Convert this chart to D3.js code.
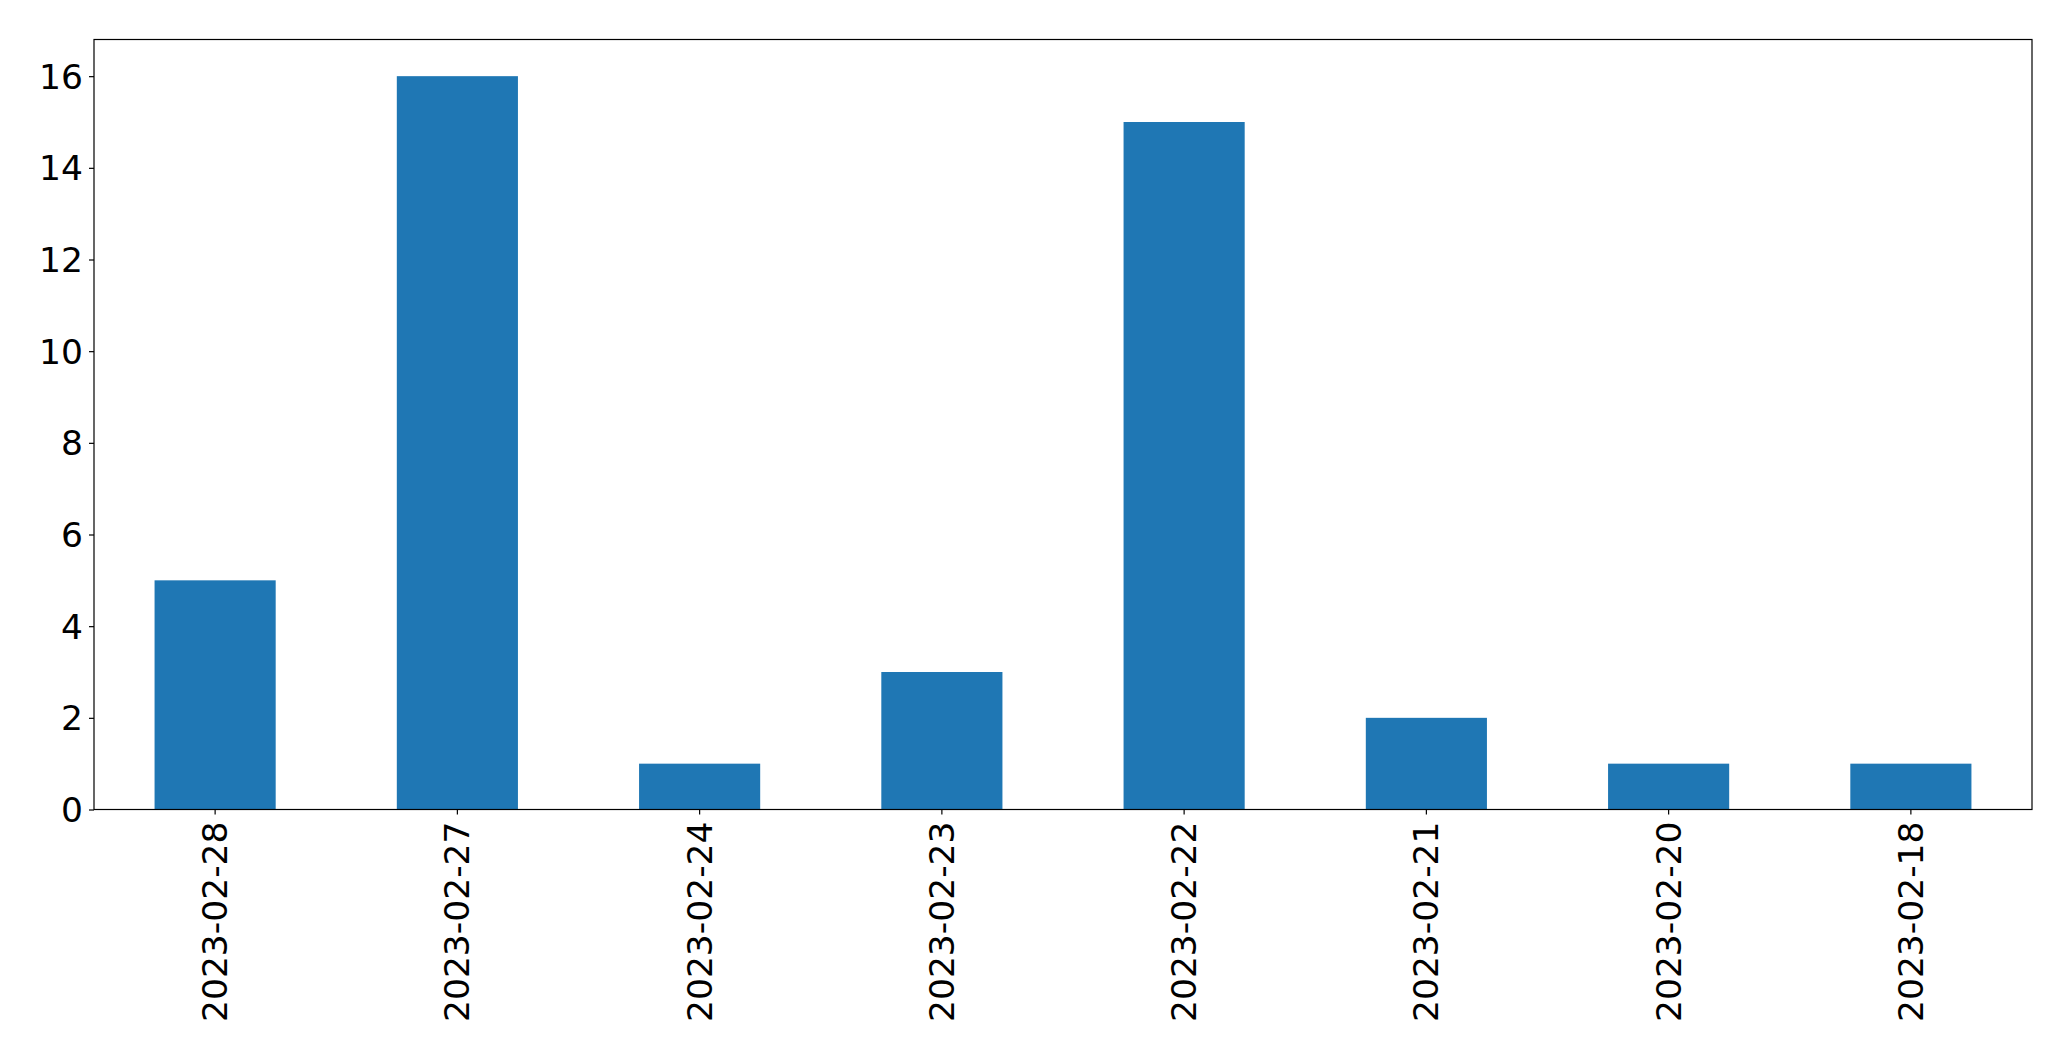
<!DOCTYPE html>
<html>
<head>
<meta charset="utf-8">
<script src="https://cdn.jsdelivr.net/npm/d3@7"></script>
<style>
html,body{margin:0;padding:0;background:#fff;}
svg{display:block;}
text{font-family:"DejaVu Sans",sans-serif;fill:#000;}
</style>
</head>
<body>
<svg id="chart" width="2071" height="1061"></svg>
<script>
const categories = ["2023-02-28","2023-02-27","2023-02-24","2023-02-23","2023-02-22","2023-02-21","2023-02-20","2023-02-18"];
const values = [5,16,1,3,15,2,1,1];
const yTicks = [0,2,4,6,8,10,12,14,16];

const W = 2071, H = 1061;
const m = {left:94, right:W-2032, top:39.5, bottom:H-809.5};
const svg = d3.select("#chart");
const iw = W - m.left - m.right, ih = H - m.top - m.bottom;
const g = svg.append("g").attr("transform", `translate(${m.left},${m.top})`);

const x = d3.scaleBand().domain(categories).range([0, iw]).paddingInner(0.5).paddingOuter(0.25);
const y = d3.scaleLinear().domain([0, 16.8]).range([ih, 0]);

g.selectAll("rect.bar").data(values).enter().append("rect")
  .attr("class","bar")
  .attr("x", (d,i)=>x(categories[i]))
  .attr("width", x.bandwidth())
  .attr("y", d=>y(d))
  .attr("height", d=>ih - y(d))
  .attr("fill", "#1f77b4");

const fs = 34.5;
const yAxis = g.append("g").call(d3.axisLeft(y).tickValues(yTicks).tickSize(5).tickPadding(6).tickFormat(d3.format("d")));
yAxis.select(".domain").remove();
yAxis.selectAll("line").attr("stroke","#000").attr("stroke-width",1.2);
yAxis.selectAll("text").style("font-size", fs+"px").attr("dy","0.35em").attr("fill","#000");

const xAxis = g.append("g").attr("transform", `translate(0,${ih})`)
  .call(d3.axisBottom(x).tickSize(5).tickPadding(0));
xAxis.select(".domain").remove();
xAxis.selectAll("line").attr("stroke","#000").attr("stroke-width",1.2);
xAxis.selectAll("text").style("font-size", fs+"px")
  .attr("text-anchor","end")
  .attr("transform","translate(0,12) rotate(-90)")
  .attr("x",0).attr("y",0).attr("dy","0.35em").attr("fill","#000");

g.append("rect").attr("x",0).attr("y",0).attr("width",iw).attr("height",ih)
  .attr("fill","none").attr("stroke","#000").attr("stroke-width",1.2);
</script>
</body>
</html>
